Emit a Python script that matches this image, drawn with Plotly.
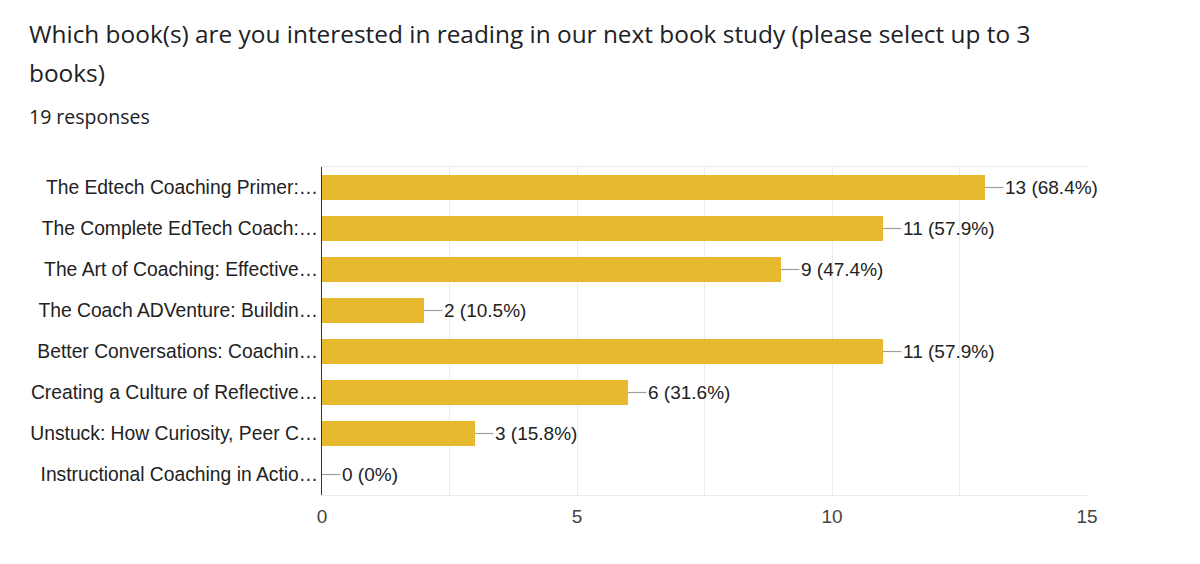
import plotly.graph_objects as go

categories = [
    "The Edtech Coaching Primer:…",
    "The Complete EdTech Coach:…",
    "The Art of Coaching: Effective…",
    "The Coach ADVenture: Buildin…",
    "Better Conversations: Coachin…",
    "Creating a Culture of Reflective…",
    "Unstuck: How Curiosity, Peer C…",
    "Instructional Coaching in Actio…",
]
counts = [13, 11, 9, 2, 11, 6, 3, 0]
percents = ["68.4%", "57.9%", "47.4%", "10.5%", "57.9%", "31.6%", "15.8%", "0%"]
x_ticks = [0, 5, 10, 15]
title_lines = ["Which book(s) are you interested in reading in our next book study (please select up to 3", "books)"]
subtitle = "19 responses"

W, H = 1200, 564
L, R, T, B = 322, 113, 167, 69
pw, ph = W - L - R, H - T - B

def px_x(p):
    return (p - L) / pw

def px_y(p):
    return (H - B - p) / ph

BAR = "#e6b92e"
LABEL_FONT = "Liberation Sans, Arial"
fig = go.Figure()
fig.add_trace(go.Bar(
    x=counts, y=categories, orientation="h",
    marker=dict(color=BAR, line=dict(width=0)),
    hoverinfo="skip",
))

lead = 0.36
for c, cat, p in zip(counts, categories, percents):
    fig.add_shape(type="line", xref="x", yref="y", x0=c, x1=c + lead, y0=cat, y1=cat,
                  line=dict(color="#9e9e9e", width=1.2))
    fig.add_annotation(x=c + lead, y=cat, xref="x", yref="y", text=f"{c} ({p})",
                       showarrow=False, xanchor="left", xshift=0, yshift=0,
                       font=dict(family=LABEL_FONT, size=19, color="#222222"))

fig.add_annotation(x=px_x(27), y=px_y(33), xref="paper", yref="paper", text=title_lines[0],
                   showarrow=False, xanchor="left", yanchor="middle",
                   font=dict(family="Open Sans", size=24.4, color="#202124"))
fig.add_annotation(x=px_x(27), y=px_y(72), xref="paper", yref="paper", text=title_lines[1],
                   showarrow=False, xanchor="left", yanchor="middle",
                   font=dict(family="Open Sans", size=24.4, color="#202124"))
fig.add_annotation(x=px_x(27), y=px_y(116), xref="paper", yref="paper", text=subtitle,
                   showarrow=False, xanchor="left", yanchor="middle",
                   font=dict(family="Open Sans", size=19.5, color="#202124"))

fig.update_layout(
    width=W, height=H,
    margin=dict(l=L, r=R, t=T, b=B, pad=0),
    paper_bgcolor="white", plot_bgcolor="white",
    bargap=0.39, showlegend=False,
    xaxis=dict(range=[0, 15], tickvals=x_ticks, ticktext=[str(v) for v in x_ticks],
               showgrid=True, gridcolor="#ebebeb", gridwidth=1,
               minor=dict(dtick=2.5, showgrid=True, gridcolor="#ebebeb", gridwidth=1),
               zeroline=False, showline=True, mirror=True, linecolor="#ebebeb", linewidth=1,
               ticks="", ticklabelstandoff=4,
               tickfont=dict(family=LABEL_FONT, size=19, color="#444444"),
               fixedrange=True),
    yaxis=dict(autorange="reversed", showgrid=False, zeroline=False,
               showline=True, linecolor="#333333", linewidth=1,
               ticks="", ticklabelstandoff=-1,
               tickfont=dict(family=LABEL_FONT, size=19.3, color="#222222"),
               fixedrange=True),
)

fig.write_html("out.html", config={"displayModeBar": False})
